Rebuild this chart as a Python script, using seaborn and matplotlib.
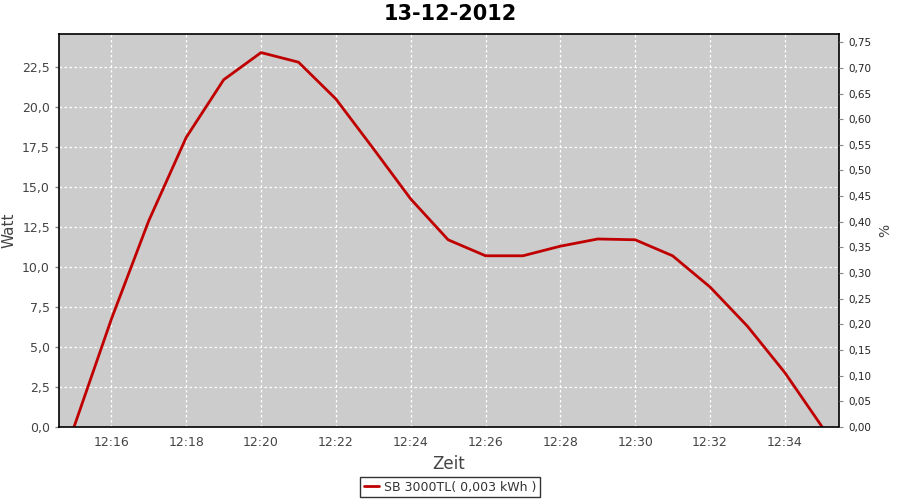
import pandas as pd
import seaborn as sns
import matplotlib.pyplot as plt
import matplotlib.dates as mdates
from matplotlib.ticker import FuncFormatter, MultipleLocator

times = ['12:15', '12:16', '12:17', '12:18', '12:19', '12:20', '12:21', '12:22',
         '12:23', '12:24', '12:25', '12:26', '12:27', '12:28', '12:29', '12:30',
         '12:31', '12:32', '12:33', '12:34', '12:35']
watt = [0.0, 6.75, 12.9, 18.1, 21.7, 23.4, 22.8, 20.5, 17.4, 14.25, 11.7,
        10.7, 10.7, 11.3, 11.75, 11.7, 10.7, 8.75, 6.3, 3.4, 0.0]
series_name = 'SB 3000TL( 0,003 kWh )'

df = pd.DataFrame({'Zeit': pd.to_datetime(['2012-12-13 ' + t for t in times]),
                   'Watt': watt})

sns.set_style('white')
plt.rcParams['font.family'] = ['DejaVu Sans']

fig = plt.figure(figsize=(9, 5), dpi=100)
ax = fig.add_axes([0.0656, 0.146, 0.8667, 0.786])
ax.set_facecolor('#cccccc')

sns.lineplot(data=df, x='Zeit', y='Watt', color='#c00000', linewidth=2,
             ax=ax, label=series_name, legend=False)

start = pd.Timestamp('2012-12-13 12:14:36')
end = pd.Timestamp('2012-12-13 12:35:27')
ax.set_xlim(start, end)
ax.set_ylim(0, 24.56)
ax.yaxis.set_major_locator(MultipleLocator(2.5))
ax.yaxis.set_major_formatter(FuncFormatter(lambda v, p: f'{v:.1f}'.replace('.', ',')))
ax.xaxis.set_major_locator(mdates.MinuteLocator(byminute=range(16, 60, 2)))
ax.xaxis.set_major_formatter(mdates.DateFormatter('%H:%M'))

ax.grid(True, color='white', linestyle=(0, (2, 2)), linewidth=0.9)
for s in ax.spines.values():
    s.set_color('black')
    s.set_linewidth(1.2)

ax.tick_params(axis='both', labelsize=9, colors='#444444', length=3, width=1)
ax.tick_params(axis='both', color='#888888')
ax.set_xlabel('Zeit', fontsize=12, color='#444444')
ax.set_ylabel('Watt', fontsize=11, color='#444444')
ax.yaxis.set_label_coords(-0.054, 0.5)

ax2 = ax.twinx()
ax2.set_ylim(0, 0.766)
ax2.yaxis.set_major_locator(MultipleLocator(0.05))
ax2.yaxis.set_major_formatter(FuncFormatter(lambda v, p: f'{v:.2f}'.replace('.', ',')))
ax2.tick_params(axis='y', labelsize=7.5, colors='#222222', length=3)
ax2.tick_params(axis='y', color='#888888')
ax2.set_ylabel('%', fontsize=10, color='#444444', labelpad=5)
for s in ax2.spines.values():
    s.set_visible(False)

fig.text(0.5, 0.972, '13-12-2012', ha='center', va='center',
         fontsize=15, fontweight='bold', color='black')

handles, labels = ax.get_legend_handles_labels()
leg = fig.legend(handles, labels, loc='center', bbox_to_anchor=(0.5, 0.026),
                 fontsize=9, frameon=True, fancybox=False, handlelength=1.2,
                 borderpad=0.3, handletextpad=0.4)
leg.get_frame().set_edgecolor('black')
leg.get_frame().set_linewidth(1)
for t in leg.get_texts():
    t.set_color('#333333')

fig.savefig('out.png', dpi=100)
